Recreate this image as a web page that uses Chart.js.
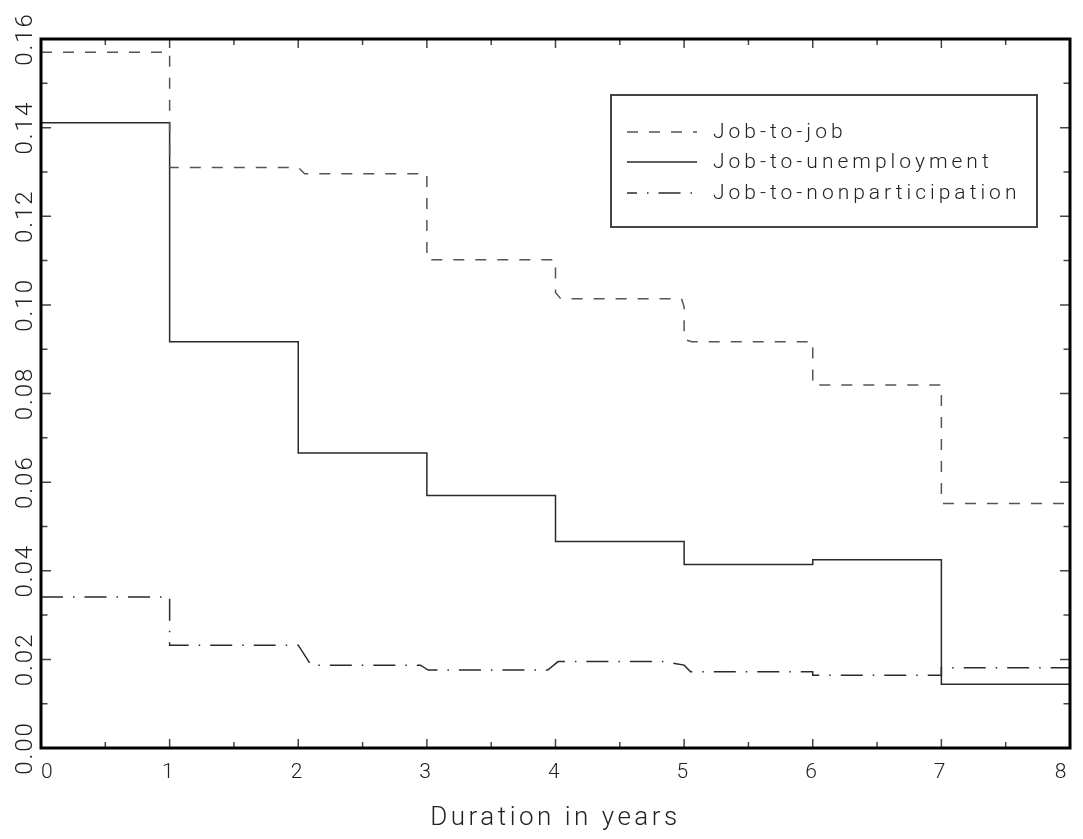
<!DOCTYPE html>
<html>
<head>
<meta charset="utf-8">
<title>Separation hazards by job duration</title>
<script src="https://cdn.jsdelivr.net/npm/chart.js@4/dist/chart.umd.min.js"></script>
<style>
  html, body { margin: 0; padding: 0; background: #fff; }
  #wrap { width: 1083px; height: 839px; }
</style>
</head>
<body>
<div id="wrap"><canvas id="chart" width="1083" height="839"></canvas></div>
<script>
/* step hazards: x = duration (years), y = rate */

const SERIES_LABELS = ['Job-to-job', 'Job-to-unemployment', 'Job-to-nonparticipation'];

const JOB_JOB_X = [0, 1, 1, 2, 2.05, 3, 3, 4, 4, 4.04, 4.98, 5, 5, 5.06, 6, 6, 7, 7, 8];
const JOB_JOB_Y = [0.157, 0.157, 0.131, 0.131, 0.1296, 0.1296, 0.1102, 0.1102, 0.1028, 0.1014,
  0.1014, 0.0995, 0.0922, 0.0917, 0.0917, 0.0819, 0.0819, 0.0552, 0.0552];

const UNEMP_X = [0, 1, 1, 2, 2, 3, 3, 4, 4, 5, 5, 6, 6, 7, 7, 8];
const UNEMP_Y = [0.1411, 0.1411, 0.0917, 0.0917, 0.0666, 0.0666, 0.0570, 0.0570,
  0.0466, 0.0466, 0.0414, 0.0414, 0.0425, 0.0425, 0.0144, 0.0144];

const NONPART_X = [0, 1, 1, 2, 2.1, 2.95, 3.01, 3.94, 4.02, 4.85, 5, 5.05, 6, 6, 7, 7, 8];
const NONPART_Y = [0.0341, 0.0341, 0.0232, 0.0232, 0.0187, 0.0187, 0.0176, 0.0176, 0.0195,
  0.0195, 0.0187, 0.0172, 0.0172, 0.0164, 0.0164, 0.0181, 0.0181];

const X_TICK_LABELS = ['0', '1', '2', '3', '4', '5', '6', '7', '8'];
const Y_TICK_LABELS = ['0.00', '0.02', '0.04', '0.06', '0.08', '0.10', '0.12', '0.14', '0.16'];

const FONT = "Roboto, 'DejaVu Sans', sans-serif";
const TEXT_COLOR = '#222';
const LINE_DARK = '#2a2a2a';
const LINE_GRAY = '#555';
const DASH = [11, 11];
const DASH_DOT = [22, 10, 1.5, 10];

function toPoints(xs, ys) {
  return xs.map(function(x, i) { return { x: x, y: ys[i] }; });
}

// frame, inward ticks and rotated y labels
const framePlugin = {
  id: 'frame',
  beforeDraw: function(chart) {
    chart.ctx.letterSpacing = '3.5px';
  },
  afterDraw: function(chart) {
    var ctx = chart.ctx;
    var a = chart.chartArea;
    var xs = chart.scales.x;
    var ys = chart.scales.y;
    ctx.save();
    ctx.strokeStyle = '#444';
    ctx.lineWidth = 1.5;
    ctx.beginPath();
    for (var i = 0; i <= 16; i++) {
      var px = xs.getPixelForValue(i / 2);
      var len = i % 2 === 0 ? 9 : 6;
      ctx.moveTo(px, a.bottom); ctx.lineTo(px, a.bottom - len);
      ctx.moveTo(px, a.top); ctx.lineTo(px, a.top + len);
    }
    for (var j = 0; j <= 16; j++) {
      var py = ys.getPixelForValue(j / 100);
      var l2 = j % 2 === 0 ? 10 : 6.5;
      ctx.moveTo(a.left, py); ctx.lineTo(a.left + l2, py);
      ctx.moveTo(a.right, py); ctx.lineTo(a.right - l2, py);
    }
    ctx.stroke();

    ctx.strokeStyle = '#000';
    ctx.lineWidth = 3;
    ctx.strokeRect(a.left, a.top, a.right - a.left, a.bottom - a.top);

    // y labels, reading bottom to top
    ctx.fillStyle = TEXT_COLOR;
    ctx.font = '300 24px ' + FONT;
    ctx.letterSpacing = '2px';
    ctx.textAlign = 'center';
    ctx.textBaseline = 'alphabetic';
    Y_TICK_LABELS.forEach(function(lbl) {
      var py = ys.getPixelForValue(parseFloat(lbl));
      ctx.save();
      ctx.translate(a.left - 9, py);
      ctx.rotate(-Math.PI / 2);
      ctx.fillText(lbl, 0, 0);
      ctx.restore();
    });
    ctx.restore();
  }
};

// boxed legend inside the plot
const boxLegendPlugin = {
  id: 'boxLegend',
  afterDraw: function(chart) {
    var ctx = chart.ctx;
    var box = { left: 611, top: 95, width: 426, height: 132 };
    var rows = [132, 162, 193];
    ctx.save();
    ctx.fillStyle = '#fff';
    ctx.fillRect(box.left, box.top, box.width, box.height);
    ctx.strokeStyle = '#444';
    ctx.lineWidth = 2;
    ctx.strokeRect(box.left, box.top, box.width, box.height);
    chart.data.datasets.forEach(function(ds, i) {
      var y = rows[i];
      ctx.strokeStyle = ds.borderColor;
      ctx.lineWidth = ds.borderWidth;
      ctx.setLineDash(ds.borderDash || []);
      ctx.lineDashOffset = i === 2 ? 12 : 0;
      ctx.beginPath();
      ctx.moveTo(627, y);
      ctx.lineTo(697, y);
      ctx.stroke();
      ctx.setLineDash([]);
      ctx.fillStyle = TEXT_COLOR;
      ctx.font = '300 21px ' + FONT;
      ctx.letterSpacing = '4px';
      ctx.textAlign = 'left';
      ctx.textBaseline = 'middle';
      ctx.fillText(ds.label, 713, y + 1);
    });
    ctx.restore();
  }
};

new Chart(document.getElementById('chart'), {
  type: 'line',
  data: {
    datasets: [{
      label: SERIES_LABELS[0],
      data: toPoints(JOB_JOB_X, JOB_JOB_Y),
      borderColor: LINE_GRAY, borderWidth: 1.5, borderDash: DASH,
      pointRadius: 0, tension: 0, fill: false
    }, {
      label: SERIES_LABELS[1],
      data: toPoints(UNEMP_X, UNEMP_Y),
      borderColor: LINE_DARK, borderWidth: 1.5, borderDash: [],
      pointRadius: 0, tension: 0, fill: false
    }, {
      label: SERIES_LABELS[2],
      data: toPoints(NONPART_X, NONPART_Y),
      borderColor: LINE_DARK, borderWidth: 1.5, borderDash: DASH_DOT,
      pointRadius: 0, tension: 0, fill: false
    }]
  },
  options: {
    responsive: false,
    animation: false,
    events: [],
    layout: { padding: { top: 39, right: 13, left: 0, bottom: 0 } },
    plugins: { legend: { display: false }, tooltip: { enabled: false } },
    scales: {
      x: {
        type: 'linear', min: 0, max: 8,
        grid: { display: false, drawTicks: false },
        border: { display: false },
        ticks: {
          stepSize: 1, align: 'inner', padding: 12, maxRotation: 0, color: TEXT_COLOR,
          font: { family: FONT, size: 21, weight: 300 },
          callback: function(v) { return X_TICK_LABELS[v]; }
        },
        title: {
          display: true, text: 'Duration in years', color: TEXT_COLOR,
          font: { family: FONT, size: 26, weight: 300 },
          padding: { top: 0, bottom: 5 }
        },
        afterFit: function(s) { s.height = 91; }
      },
      y: {
        type: 'linear', min: 0, max: 0.16,
        grid: { display: false, drawTicks: false },
        border: { display: false },
        ticks: { display: false, stepSize: 0.02 },
        afterFit: function(s) { s.width = 41; }
      }
    }
  },
  plugins: [framePlugin, boxLegendPlugin]
});
</script>
</body>
</html>
